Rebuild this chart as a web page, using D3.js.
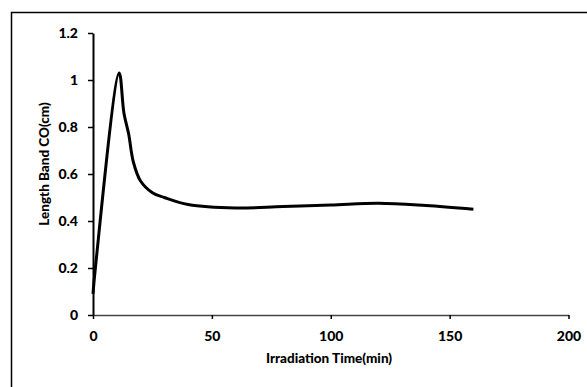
<!DOCTYPE html>
<html>
<head>
<meta charset="utf-8">
<script src="https://cdn.jsdelivr.net/npm/d3@7"></script>
<style>
  body { margin: 0; background: #fff; }
  svg text { font-family: Lato, "Liberation Sans", sans-serif; font-weight: 900; fill: #000; }
</style>
</head>
<body>
<div id="chart"></div>
<script>
// data
const timeMin = [0, 1, 11, 13, 15, 17, 20, 25, 30, 40, 60, 80, 100, 120, 140, 160];
const bandLength = [0.09, 0.2, 1.03, 0.86, 0.77, 0.65, 0.57, 0.52, 0.5, 0.47, 0.455, 0.462, 0.468, 0.476, 0.466, 0.45];
const xTicks = [0, 50, 100, 150, 200];
const yTicks = [0, 0.2, 0.4, 0.6, 0.8, 1, 1.2];

const width = 587;
const height = 387;

const svg = d3.select("#chart")
    .append("svg")
    .attr("width", width)
    .attr("height", height);

// outer frame
svg.append("rect")
    .attr("x", 11.5)
    .attr("y", 12.5)
    .attr("width", 580)
    .attr("height", 380)
    .attr("fill", "none")
    .attr("stroke", "#000")
    .attr("stroke-width", 1.5);

const x = d3.scaleLinear().domain([0, 200]).range([93, 568.5]);
const y = d3.scaleLinear().domain([0, 1.2]).range([315, 33]);

// x axis
const xAxis = svg.append("g")
    .attr("transform", `translate(0,${y(0)})`)
    .call(d3.axisBottom(x).tickValues(xTicks).tickSize(4).tickPadding(12).tickSizeOuter(0));
xAxis.select(".domain").attr("stroke", "#444").attr("stroke-width", 1.5);
xAxis.selectAll(".tick line").attr("stroke", "#000").attr("stroke-width", 1.5);
xAxis.selectAll("text").style("font-size", "14px");

// y axis
const yAxis = svg.append("g")
    .attr("transform", `translate(${x(0)},0)`)
    .call(d3.axisLeft(y).tickValues(yTicks).tickSize(5).tickPadding(10).tickSizeOuter(0)
        .tickFormat(d => d3.format("~g")(d)));
yAxis.select(".domain").attr("stroke", "#000").attr("stroke-width", 2);
yAxis.selectAll(".tick line").attr("stroke", "#000").attr("stroke-width", 1.5);
yAxis.selectAll("text").style("font-size", "14px");

// axis titles
svg.append("text")
    .attr("x", 329)
    .attr("y", 363)
    .attr("text-anchor", "middle")
    .style("font-size", "13.5px")
    .text("Irradiation Time(min)");

svg.append("text")
    .attr("transform", "translate(49,164) rotate(-90)")
    .attr("text-anchor", "middle")
    .style("font-size", "13.5px")
    .text("Length Band CO(cm)");

// series
const points = timeMin.map((t, i) => [t, bandLength[i]]);
const line = d3.line()
    .x(d => x(d[0]))
    .y(d => y(d[1]))
    .curve(d3.curveCatmullRom.alpha(0.5));

svg.append("path")
    .datum(points)
    .attr("fill", "none")
    .attr("stroke", "#000")
    .attr("stroke-width", 3)
    .attr("stroke-linejoin", "round")
    .attr("d", line);
</script>
</body>
</html>
